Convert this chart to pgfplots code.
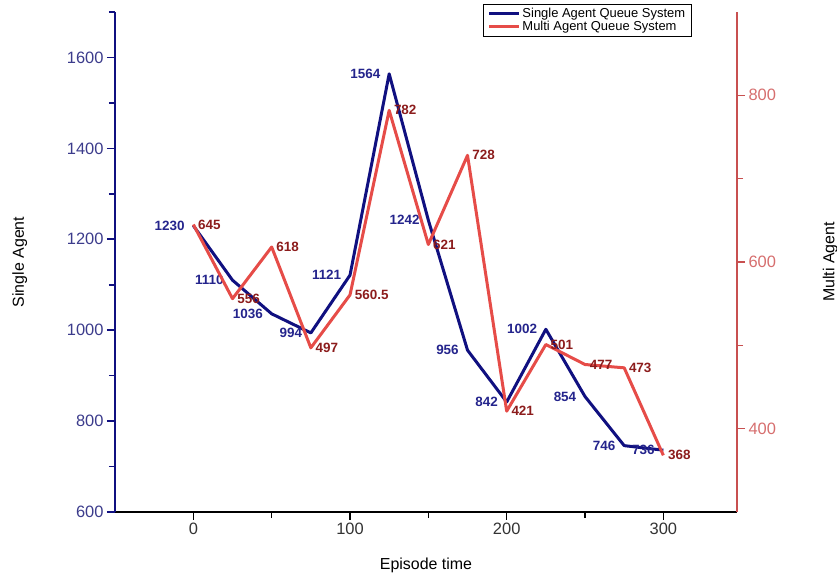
\documentclass[border=0pt]{standalone}
\usepackage{pgfplots}
\pgfplotsset{compat=1.18}
\usepackage{fontspec}
\setmainfont{Liberation Sans}
\definecolor{navy}{RGB}{16,16,128}
\definecolor{navytxt}{RGB}{36,36,140}
\definecolor{ticknavy}{RGB}{60,60,140}
\definecolor{redline}{RGB}{230,76,72}
\definecolor{redtxt}{RGB}{140,28,28}
\definecolor{redaxis}{RGB}{200,80,80}
\definecolor{redtick}{RGB}{214,110,110}
\begin{document}
\begin{tikzpicture}
\pgfplotsset{
  every axis/.append style={scale only axis, width=622bp, height=500bp,
    xmin=-50, xmax=347, clip=false,
    /pgf/number format/assume math mode=true, /pgf/number format/1000 sep={},
    tick align=outside, major tick length=8bp, minor tick length=6bp,
    ticklabel style={font=\fontsize{16.5}{17}\selectfont},
    label style={font=\fontsize{16}{16}\selectfont},
  },
}
\begin{axis}[name=ax1,
  axis x line*=bottom, axis y line*=left,
  ymin=600, ymax=1700,
  ytick={600,800,...,1600}, minor ytick={700,900,...,1700},
  xtick={0,100,200,300}, minor xtick={50,150,250},
  x axis line style={black, line width=1.8bp},
  y axis line style={navy, line width=1.8bp},
  xtick style={black, line width=1.6bp},
  ytick style={navy, line width=1.6bp},
  yticklabel style={text=ticknavy},
  xticklabel style={text=black!80},
  xlabel={Episode time},
  xlabel style={at={(axis description cs:0.5,-0.106)}, anchor=center},
  ylabel={Single Agent},
  ylabel style={at={(axis description cs:-0.153,0.5)}, anchor=center},
]
\addplot[navy, line width=3bp, line join=round, nodes near coords, point meta=explicit symbolic,
  every node near coord/.append style={anchor=east, xshift=-4bp, text=navytxt, font=\bfseries\fontsize{13.5}{14}\selectfont}]
coordinates {
(0,1230)[1230] (25,1110)[1110] (50,1036)[1036] (75,994)[994] (100,1121)[1121]
(125,1564)[1564] (150,1242)[1242] (175,956)[956] (200,842)[842] (225,1002)[1002]
(250,854)[854] (275,746)[746] (300,736)[736]
};
\end{axis}
\begin{axis}[
  axis y line*=right, axis x line=none,
  ymin=300, ymax=900,
  ytick={400,600,800}, minor ytick={500,700},
  y axis line style={redaxis, line width=1.8bp},
  ytick style={redaxis, line width=1.6bp},
  yticklabel style={text=redtick},
  ylabel={Multi Agent},
  ylabel style={at={(axis description cs:1.15,0.5)}, anchor=center},
  legend style={at={(axis description cs:0.927,1.016)}, anchor=north east, draw=black, line width=0.8bp,
    font=\fontsize{13}{14}\selectfont, row sep=-2bp, inner sep=2bp, inner xsep=4bp, cells={anchor=west}},
  legend image code/.code={\draw[#1] (0bp,0bp) -- (30bp,0bp);},
]
\addlegendimage{navy, line width=3bp}
\addlegendentry{Single Agent Queue System}
\addplot[redline, line width=3bp, line join=round, nodes near coords, point meta=explicit symbolic,
  every node near coord/.append style={anchor=west, xshift=0bp, text=redtxt, font=\bfseries\fontsize{13.5}{14}\selectfont}]
coordinates {
(0,645)[645] (25,556)[556] (50,618)[618] (75,497)[497] (100,560.5)[560.5]
(125,782)[782] (150,621)[621] (175,728)[728] (200,421)[421] (225,501)[501]
(250,477)[477] (275,473)[473] (300,368)[368]
};
\addlegendentry{Multi Agent Queue System}
\end{axis}
\pgfresetboundingbox
\path ([xshift=-115bp, yshift=-67bp]ax1.south west) rectangle ([xshift=100bp, yshift=12bp]ax1.north east);
\end{tikzpicture}
\end{document}
